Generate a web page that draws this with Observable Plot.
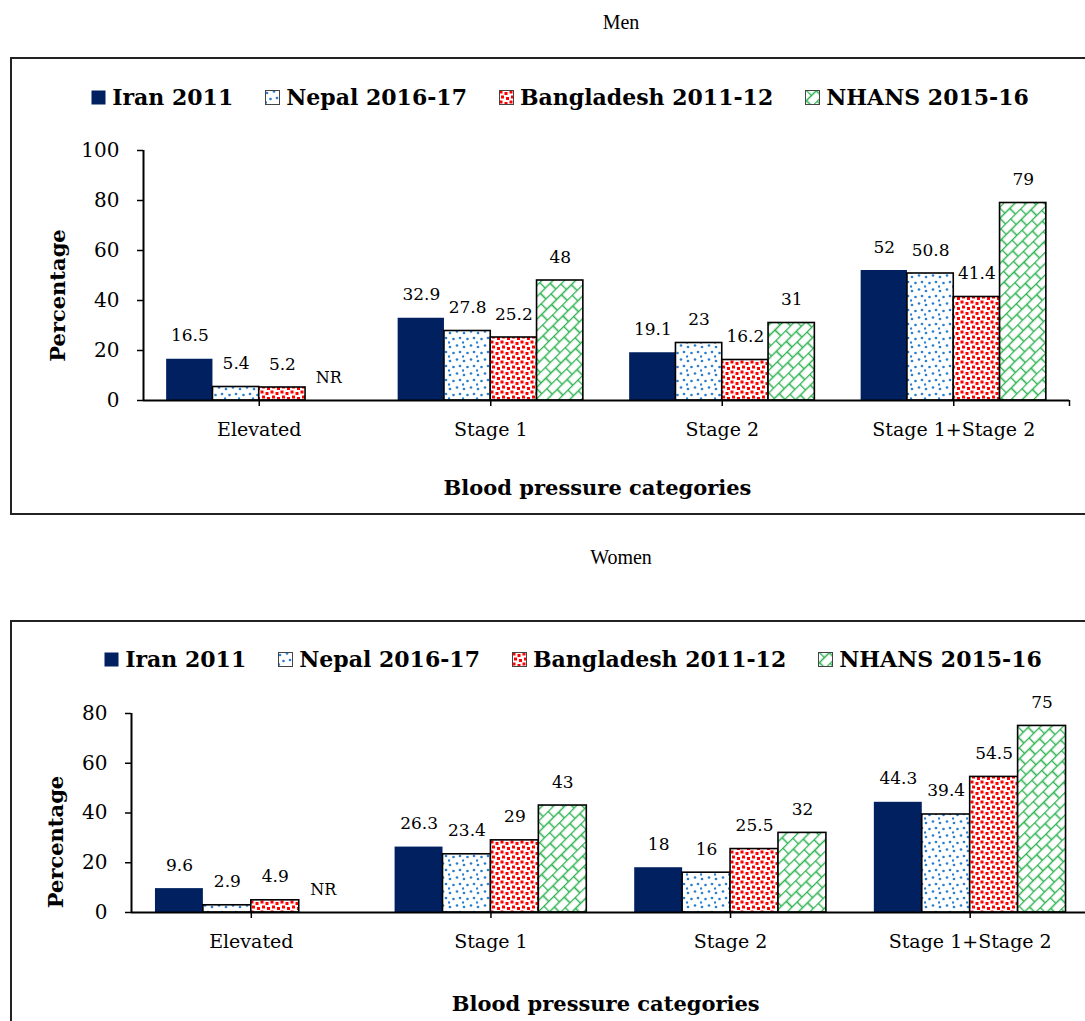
<!DOCTYPE html>
<html>
<head>
<meta charset="utf-8">
<script src="https://cdn.jsdelivr.net/npm/d3@7"></script>
<script src="https://cdn.jsdelivr.net/npm/@observablehq/plot@0.6"></script>
<style>
  body { margin: 0; width: 1085px; height: 1021px; overflow: hidden; position: relative; background: #fff; font-family: "DejaVu Serif", serif; color: #000; }
  .panel-title { position: absolute; left: 0; width: 1242px; text-align: center; font-family: "Liberation Serif", serif; font-size: 20px; line-height: 24px; }
  .frame { position: absolute; left: 10px; width: 1160px; border: 2px solid #222; box-sizing: border-box; }
  .legend { position: absolute; left: 10px; width: 1100px; display: flex; justify-content: center; align-items: center; gap: 32px; font-family: "DejaVu Serif", serif; font-weight: bold; font-size: 22px; line-height: 26px; white-space: nowrap; }
  .legend .item { display: flex; align-items: center; gap: 6px; }
  .legend svg { display: block; }
  .chart { position: absolute; left: 0; }
</style>
</head>
<body>
<svg width="0" height="0" style="position:absolute">
  <defs>
    <pattern id="pNepal" patternUnits="userSpaceOnUse" width="14" height="14">
      <rect width="14" height="14" fill="#fff"/>
      <g fill="#2a7fd0">
        <circle cx="2" cy="3" r="1.35"/>
        <circle cx="9" cy="1.5" r="1.35"/>
        <circle cx="5.5" cy="9" r="1.35"/>
        <circle cx="12" cy="8" r="1.35"/>
        <circle cx="1" cy="12.5" r="1.2"/>
      </g>
    </pattern>
    <pattern id="pBangla" patternUnits="userSpaceOnUse" width="10" height="10">
      <rect width="10" height="10" fill="#fff"/>
      <g fill="#f00">
        <rect x="0.5" y="0.5" width="3" height="3"/>
        <rect x="5.5" y="2" width="3" height="3"/>
        <rect x="2" y="5.5" width="3" height="3"/>
        <rect x="7" y="7" width="3" height="3"/>
      </g>
    </pattern>
    <pattern id="pNhans" patternUnits="userSpaceOnUse" width="14" height="16" patternTransform="rotate(-45)">
      <rect width="14" height="16" fill="#fff"/>
      <path d="M0,0.5H14M0,8.5H14M0.5,0.5V8.5M7.5,8.5V16.5" stroke="#2fb352" stroke-width="1.6" fill="none"/>
    </pattern>
  </defs>
</svg>

<div class="panel-title" style="top:10px">Men</div>
<div class="frame" style="top:57px;height:458px"></div>
<div class="legend" id="legendMen" style="top:84px"></div>
<div class="chart" id="men" style="top:120px"></div>

<div class="panel-title" style="top:545px">Women</div>
<div class="frame" style="top:620px;height:500px"></div>
<div class="legend" id="legendWomen" style="top:646px;left:23px"></div>
<div class="chart" id="women" style="top:680px"></div>

<script>
const categories = ["Elevated", "Stage 1", "Stage 2", "Stage 1+Stage 2"];
const series = ["Iran 2011", "Nepal 2016-17", "Bangladesh 2011-12", "NHANS 2015-16"];

const menIran = [16.5, 32.9, 19.1, 52];
const menNepal = [5.4, 27.8, 23, 50.8];
const menBangladesh = [5.2, 25.2, 16.2, 41.4];
const menNhans = [null, 48, 31, 79];

const womenIran = [9.6, 26.3, 18, 44.3];
const womenNepal = [2.9, 23.4, 16, 39.4];
const womenBangladesh = [4.9, 29, 25.5, 54.5];
const womenNhans = [null, 43, 32, 75];

const menTicks = [0, 20, 40, 60, 80, 100];
const womenTicks = [0, 20, 40, 60, 80];

const fills = ["#002060", "url(#pNepal)", "url(#pBangla)", "url(#pNhans)"];

// layout of a group inside each category band (fractions of the band)
const groupPad = 0.1, barW = 0.2;

function buildRows(seriesValues) {
  const out = [];
  seriesValues.forEach((vals, si) => vals.forEach((v, ci) => out.push({category: categories[ci], ci, series: series[si], si, value: v})));
  return out;
}
const x1Of = d => d.ci + groupPad + d.si * barW;
const x2Of = d => x1Of(d) + barW;
const xcOf = d => x1Of(d) + barW / 2;

function legend(el) {
  series.forEach((s, i) => {
    const item = document.createElement("div");
    item.className = "item";
    const stroke = i === 0 ? "none" : "#444";
    item.innerHTML = `<svg width="15" height="15"><rect x="0.5" y="0.5" width="14" height="14" fill="${fills[i]}" stroke="${stroke}" stroke-width="1"/></svg><span>${s}</span>`;
    el.appendChild(item);
  });
}

function chart({data, ticks, yMax, height, marginTop, marginBottom, marginLeft, marginRight, titleDy, titleDx, ylabelDx, ylabelDy}) {
  const present = data.filter(d => d.value != null);
  const missing = data.filter(d => d.value == null);
  return Plot.plot({
    width: 1100,
    height,
    marginTop, marginBottom, marginLeft, marginRight,
    style: {maxWidth: "none", background: "transparent", overflow: "visible", fontFamily: "DejaVu Serif", color: "#000"},
    x: {domain: [0, categories.length], axis: null},
    y: {domain: [0, yMax], axis: null},
    color: {domain: series, range: fills},
    marks: [
      Plot.rect(present.filter(d => d.si === 0), {x1: x1Of, x2: x2Of, y1: 0, y2: "value", fill: "series"}),
      Plot.rect(present.filter(d => d.si > 0), {x1: x1Of, x2: x2Of, y1: 0, y2: "value", fill: "series", stroke: "#000", strokeWidth: 1.6}),
      Plot.text(present, {x: xcOf, y: "value", text: d => String(d.value), lineAnchor: "bottom", dy: -18, fontSize: 17, fill: "#000"}),
      Plot.text(missing, {x: xcOf, y: 0, text: () => "NR", lineAnchor: "bottom", dy: -18, fontSize: 16, fill: "#000"}),
      Plot.ruleY([0], {stroke: "#000", strokeWidth: 2}),
      Plot.ruleX([0], {stroke: "#000", strokeWidth: 2}),
      Plot.axisY({ticks, tickSize: 6, tickPadding: 18, fontSize: 20, label: null, strokeWidth: 1.5}),
      Plot.axisX({ticks: [0.5, 1.5, 2.5, 3.5, 4], tickFormat: d => categories[d - 0.5] ?? "", tickSize: 6, tickPadding: 16, fontSize: 19, label: null, strokeWidth: 1.5}),
      Plot.text(["Percentage"], {text: d => d, frameAnchor: "left", rotate: -90, dx: ylabelDx, dy: ylabelDy, textAnchor: "middle", lineAnchor: "middle", fontWeight: "bold", fontSize: 21, fill: "#000"}),
      Plot.text(["Blood pressure categories"], {text: d => d, frameAnchor: "bottom", dy: titleDy, dx: titleDx, textAnchor: "middle", lineAnchor: "middle", fontWeight: "bold", fontSize: 21, fill: "#000"})
    ]
  });
}

legend(document.getElementById("legendMen"));
legend(document.getElementById("legendWomen"));

document.getElementById("men").appendChild(chart({
  data: buildRows([menIran, menNepal, menBangladesh, menNhans]),
  ticks: menTicks, yMax: 100, height: 400,
  marginTop: 30, marginBottom: 120, marginLeft: 143, marginRight: 31,
  titleDy: 88, titleDx: -9, ylabelDx: -85, ylabelDy: 20
}));

document.getElementById("women").appendChild(chart({
  data: buildRows([womenIran, womenNepal, womenBangladesh, womenNhans]),
  ticks: womenTicks, yMax: 80, height: 341,
  marginTop: 33, marginBottom: 109, marginLeft: 131, marginRight: 10.5,
  titleDy: 92, titleDx: -5, ylabelDx: -75, ylabelDy: 29
}));
</script>
</body>
</html>
